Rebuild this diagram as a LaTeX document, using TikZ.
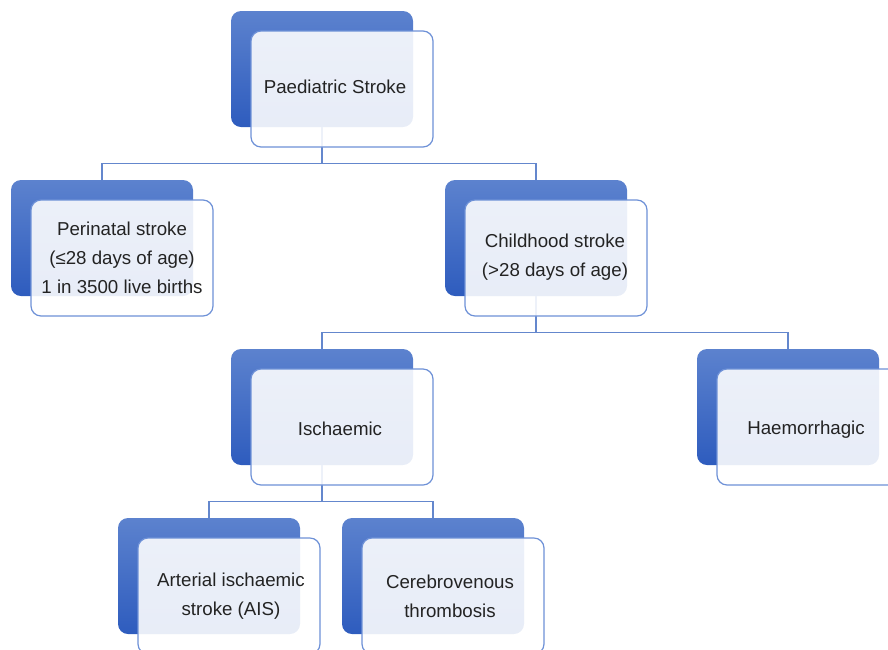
\documentclass[tikz,border=0pt]{standalone}
\usepackage{fontspec}
\setmainfont{Liberation Sans}
\usetikzlibrary{calc}
\definecolor{btop}{RGB}{92,130,206}
\definecolor{bbot}{RGB}{46,92,190}
\definecolor{edgeblue}{RGB}{110,145,215}
\definecolor{linkblue}{RGB}{100,135,205}
\definecolor{txt}{RGB}{35,35,35}
\pgfdeclarelayer{bg}
\pgfsetlayers{bg,main}
\tikzset{
  backbox/.style={rectangle, rounded corners=10pt, minimum width=182pt, minimum height=116pt, inner sep=0pt, top color=btop, bottom color=bbot, draw=none},
  frontbox/.style={rectangle, rounded corners=10pt, minimum width=182pt, minimum height=116pt, inner sep=0pt, draw=edgeblue, line width=1.2pt, fill=white, fill opacity=0.89},
  boxtext/.style={text=txt, align=center, font=\fontsize{18.7pt}{29pt}\selectfont},
  link/.style={draw=linkblue, line width=1.5pt}
}
\newcommand{\mkbox}[6]{%
  \node[backbox] (#1B) at (#2,#3) {};
  \node[frontbox] (#1) at (#2+20,#3+20) {};
  \node[boxtext] (#1T) at ([xshift=#5pt,yshift=#6pt]#1.center) {#4};
}
\begin{document}
\begin{tikzpicture}[x=1pt,y=-1pt]
\path[use as bounding box, clip] (0,0) rectangle (888,649);
\mkbox{ps}{322}{69}{Paediatric Stroke}{-7}{2}
\mkbox{peri}{102}{238}{Perinatal stroke\\(≤28 days of age)\\1 in 3500 live births}{0}{0}
\mkbox{child}{536}{238}{Childhood stroke\\(>28 days of age)}{-1}{1}
\mkbox{isch}{322}{407}{Ischaemic}{-2}{-2}
\mkbox{haem}{788}{407}{Haemorrhagic}{-2}{-3}
\mkbox{ais}{209}{576}{Arterial ischaemic\\stroke (AIS)}{2}{0}
\mkbox{cvt}{433}{576}{Cerebrovenous\\thrombosis}{-3}{0}
\begin{pgfonlayer}{bg}
\draw[link] (psB.south) -- ([yshift=-16pt]ps.south -| psB.south) -| (periB.north);
\draw[link] ([yshift=-16pt]ps.south -| psB.south) -| (childB.north);
\draw[link] (childB.south) -- ([yshift=-16pt]child.south -| childB.south) -| (ischB.north);
\draw[link] ([yshift=-16pt]child.south -| childB.south) -| (haemB.north);
\draw[link] (ischB.south) -- ([yshift=-16pt]isch.south -| ischB.south) -| (aisB.north);
\draw[link] ([yshift=-16pt]isch.south -| ischB.south) -| (cvtB.north);
\end{pgfonlayer}
\end{tikzpicture}
\end{document}
